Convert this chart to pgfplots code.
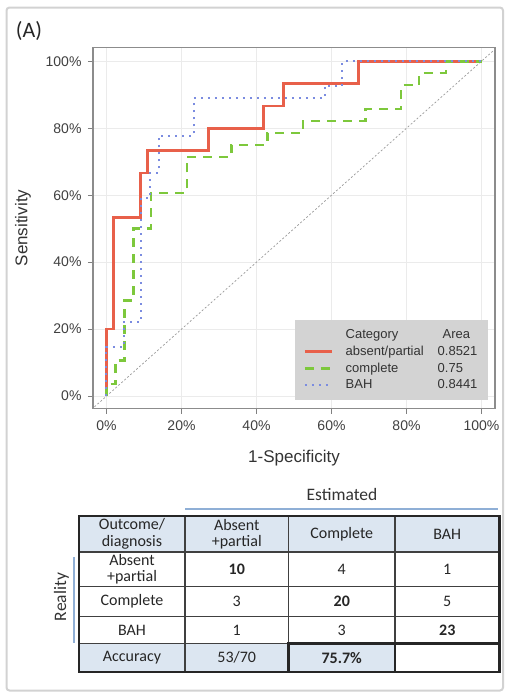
\documentclass[border=0pt]{standalone}
\usepackage{pgfplots}
\pgfplotsset{compat=1.18}
\usepackage{fontspec}
\setmainfont{Carlito}
\newfontfamily\arial{Liberation Sans}
\definecolor{rocred}{HTML}{E8604A}
\definecolor{rocgreen}{HTML}{7DC83C}
\definecolor{rocblue}{HTML}{7B8CE0}
\definecolor{leggray}{HTML}{D3D3D3}
\definecolor{cellblue}{HTML}{DCE6F1}
\definecolor{lineblue}{HTML}{8FAFD6}
\begin{document}
\begin{tikzpicture}[x=1pt,y=1pt]
\useasboundingbox (0,0) rectangle (509,-697);
\begin{scope}[y=-1pt]
\draw[gray!35, line width=2pt, rounded corners=3pt] (6.5,7.5) rectangle (503,690.5);
\node[font=\fontsize{22}{24}\selectfont, text=black!85] at (29,31) {(A)};
\end{scope}
\begin{axis}[
  at={(93pt,-408.5pt)}, anchor=south west,
  scale only axis, width=402pt, height=361pt,
  xmin=-3.6, xmax=103.6, ymin=-3.7, ymax=104.1,
  xtick={0,20,40,60,80,100}, ytick={0,20,40,60,80,100},
  xticklabels={0\%,20\%,40\%,60\%,80\%,100\%},
  yticklabels={0\%,20\%,40\%,60\%,80\%,100\%},
  tick align=outside, tick pos=left, major tick length=5pt,
  grid=major, grid style={black!8, line width=0.7pt},
  axis line style={black!45, line width=1.3pt},
  every tick/.style={black!50, line width=1pt},
  ticklabel style={font=\arial\fontsize{14}{16}\selectfont, text=black!75},
  xticklabel style={yshift=-4pt},
  yticklabel style={xshift=-3pt},
  xlabel={1-Specificity}, ylabel={Sensitivity},
  label style={font=\arial\fontsize{17}{20}\selectfont, text=black!80},
  xlabel style={at={(axis description cs:0.5,-0.137)}, anchor=center},
  ylabel style={at={(axis description cs:-0.174,0.5)}, anchor=center, rotate=0},
  legend style={at={(0.983,0.0235)}, anchor=south east, fill=leggray, draw=none,
    font=\arial\fontsize{13}{15}\selectfont, text=black!80,
    inner xsep=9pt, inner ysep=8pt, row sep=3pt, nodes={inner sep=1.5pt},
    /tikz/every odd column/.append style={column sep=11pt}},
  legend cell align=left,
  legend image code/.code={\draw[#1] (0pt,0pt) -- (27pt,0pt);},
  clip=true,
]
\addplot[black!40, line width=0.7pt, dash pattern=on 2pt off 2pt, forget plot] coordinates {(-4,-4) (105,105)};
\addlegendimage{empty legend}
\addlegendentry{\makebox[92pt][l]{Category}\hspace{5pt}Area}
\addplot[rocred, line width=2.6pt] coordinates {
(0,0)(0,20)(1.82,20)(1.82,53.33)(9.09,53.33)(9.09,66.67)(10.91,66.67)(10.91,73.33)(27.27,73.33)(27.27,80)(41.82,80)(41.82,86.67)(47.27,86.67)(47.27,93.33)(67.27,93.33)(67.27,100)(100,100)};
\addlegendentry{\makebox[92pt][l]{absent/partial}0.8521}
\addplot[rocgreen, line width=2.6pt, dash pattern=on 9pt off 7pt] coordinates {
(0,0)(0,3.57)(2.38,3.57)(2.38,10.71)(4.76,10.71)(4.76,28.57)(7.14,28.57)(7.14,50)(11.90,50)(11.90,60.71)(21.43,60.71)(21.43,71.43)(33.33,71.43)(33.33,75)(42.86,75)(42.86,78.57)(52.38,78.57)(52.38,82.14)(69.05,82.14)(69.05,85.71)(78.57,85.71)(78.57,92.86)(83.33,92.86)(83.33,96.43)(90.48,96.43)(90.48,100)(100,100)};
\addlegendentry{\makebox[92pt][l]{complete}0.75}
\addplot[rocblue, line width=2pt, dash pattern=on 2pt off 5pt] coordinates {
(0,0)(0,14.81)(4.65,14.81)(4.65,22.22)(9.30,22.22)(9.30,59.26)(11.63,59.26)(11.63,66.67)(13.95,66.67)(13.95,77.78)(23.26,77.78)(23.26,88.89)(58.14,88.89)(58.14,92.59)(62.79,92.59)(62.79,100)(100,100)};
\addlegendentry{\makebox[92pt][l]{BAH}0.8441}
\end{axis}
\begin{scope}[y=-1pt]
% Estimated / Reality labels
\node[font=\fontsize{17.5}{20}\selectfont, text=black!80] at (342,494) {Estimated};
\draw[lineblue, line width=1.3pt] (185,509) -- (498,509);
\node[rotate=90, font=\fontsize{17.5}{20}\selectfont, text=black!80] at (61.5,597) {Reality};
\draw[lineblue, line width=1.3pt] (74,557) -- (74,643);
% table fills
\fill[cellblue] (79,516) rectangle (499.5,552);
\fill[cellblue] (79,643.5) rectangle (395,672);
% inner lines
\draw[black!75, line width=1.4pt] (79,552) -- (499.5,552) (79,586.5) -- (499.5,586.5) (79,616.5) -- (499.5,616.5) (79,643.5) -- (499.5,643.5);
\draw[black!75, line width=1.4pt] (185,516) -- (185,672) (288.5,516) -- (288.5,672) (395,516) -- (395,672);
\draw[black!85, line width=2.2pt] (288.5,643.5) rectangle (395,672);
\draw[black!85, line width=2.2pt] (395,643.5) -- (499.5,643.5);
\draw[black!85, line width=2.2pt] (79,516) rectangle (499.5,672);
% table text
\begin{scope}[every node/.style={font=\fontsize{16}{16.5}\selectfont, text=black!85, align=center}]
\node at (132,534) {Outcome/\\diagnosis};
\node at (236.75,534) {Absent\\+partial};
\node at (341.75,534) {Complete};
\node at (447.25,534) {BAH};
\node at (132,569.25) {Absent\\+partial};
\node at (236.75,569.25) {\textbf{10}};
\node at (341.75,569.25) {4};
\node at (447.25,569.25) {1};
\node at (132,601.5) {Complete};
\node at (236.75,601.5) {3};
\node at (341.75,601.5) {\textbf{20}};
\node at (447.25,601.5) {5};
\node at (132,630) {BAH};
\node at (236.75,630) {1};
\node at (341.75,630) {3};
\node at (447.25,630) {\textbf{23}};
\node at (132,657.75) {Accuracy};
\node at (236.75,657.75) {53/70};
\node at (341.75,657.75) {\textbf{75.7\%}};
\end{scope}
\end{scope}
\end{tikzpicture}
\end{document}
